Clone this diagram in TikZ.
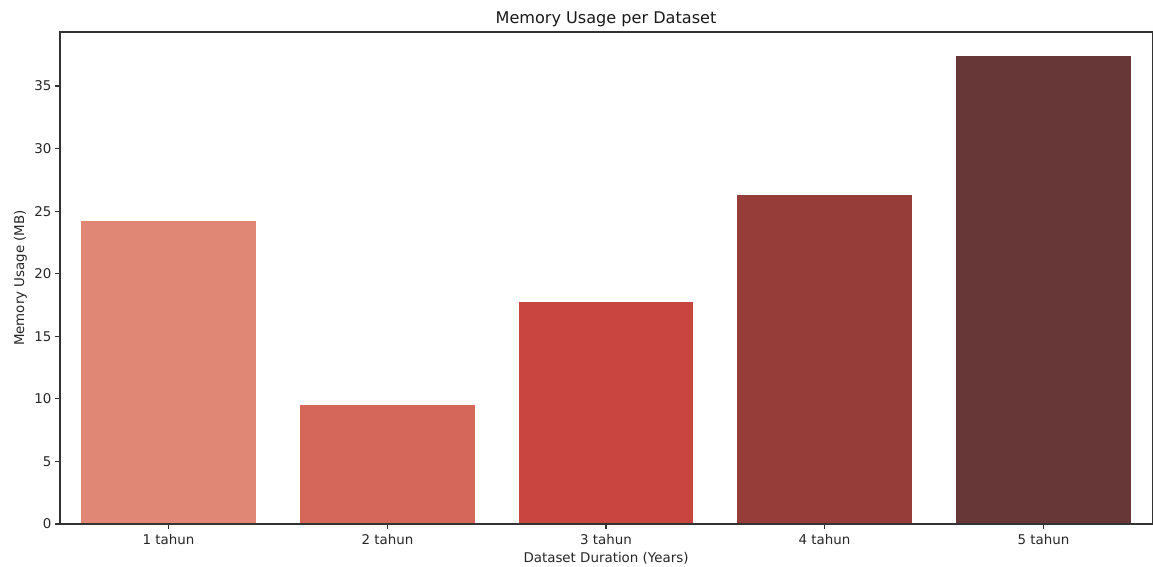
\documentclass[tikz,border=0pt]{standalone}
\usepackage{fontspec}
\setmainfont{DejaVu Sans}
\definecolor{cA}{HTML}{E08775}
\definecolor{cB}{HTML}{D5675A}
\definecolor{cC}{HTML}{C9453F}
\definecolor{cD}{HTML}{963D3A}
\definecolor{cE}{HTML}{673637}
\tikzset{
  ticklab/.style={font=\fontsize{13.4}{16}\selectfont, inner sep=0pt, text=black!85},
  axlab/.style={font=\fontsize{13.4}{16}\selectfont, inner sep=0pt, text=black!85},
  titlelab/.style={font=\fontsize{16.1}{19}\selectfont, inner sep=0pt, text=black!90},
  spine/.style={line width=1.1pt, draw=black!80},
  tickmark/.style={line width=1.1pt, draw=black!80}
}
\begin{document}
\begin{tikzpicture}[x=1pt,y=-1pt]
\useasboundingbox (0,0) rectangle (1153,567);
% bars (y: value v -> 524 - 12.514*v)
\fill[cA] (81,524) rectangle (256,221);
\fill[cB] (300,524) rectangle (475,405);
\fill[cC] (519,524) rectangle (693,302);
\fill[cD] (737,524) rectangle (912,195);
\fill[cE] (956,524) rectangle (1131,56);
% spines
\draw[spine] (60,32) rectangle (1152.4,524);
% y ticks
\foreach \v/\yy in {0/524,5/461.4,10/398.9,15/336.3,20/273.7,25/211.2,30/148.6,35/86.0}{
  \draw[tickmark] (60,\yy) -- (55.1,\yy);
  \node[ticklab, anchor=east] (yt\v) at (51.5,\yy) {\v};
}
% x ticks
\foreach \i/\xx in {1/168.5,2/387.5,3/606,4/824.5,5/1043.5}{
  \draw[tickmark] (\xx,524) -- (\xx,528.9);
  \node[ticklab, anchor=base] (xt\i) at (\xx,544) {\i{} tahun};
}
\node[axlab, anchor=base] (xlab) at (606,562) {Dataset Duration (Years)};
\node[axlab, rotate=90, anchor=base] (ylab) at (24,278) {Memory Usage (MB)};
\node[titlelab, anchor=base] (title) at (606,24) {Memory Usage per Dataset};
\end{tikzpicture}
\end{document}
